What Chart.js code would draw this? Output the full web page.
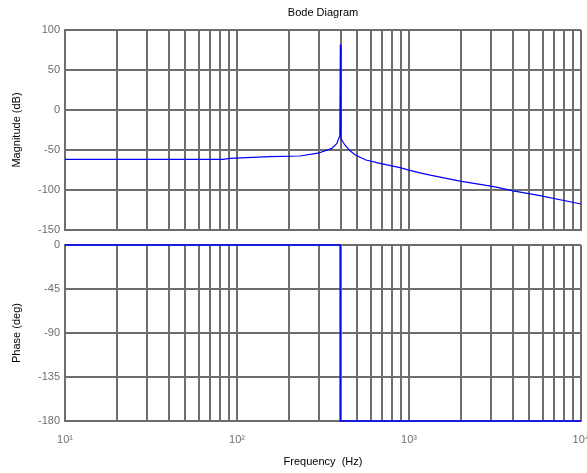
<!DOCTYPE html>
<html>
<head>
<meta charset="utf-8">
<script src="https://cdn.jsdelivr.net/npm/chart.js@4/dist/chart.umd.min.js"></script>
<style>
  html, body { margin: 0; padding: 0; background: #fff; }
  #wrap { position: relative; width: 587px; height: 473px; }
  #mag { position: absolute; left: 0; top: 0; }
  #phase { position: absolute; left: 0; top: 238px; }
</style>
</head>
<body>
<div id="wrap">
  <canvas id="mag" width="587" height="238"></canvas>
  <canvas id="phase" width="587" height="235"></canvas>
</div>
<script>
// magnitude response
const magFreq = [10, 83, 91, 155, 232, 296, 356, 381, 396, 399, 402, 424, 454, 486, 519, 562, 678, 887, 987, 1158, 1328, 1981, 2589, 3170, 4028, 5776, 10000];
const magDb   = [-61.6, -61.6, -60.4, -58.3, -57.5, -54, -48, -41.7, -32, 82, -36, -43.7, -51, -56, -59, -62.5, -66.7, -72, -74.8, -78.5, -81.5, -89, -93, -96, -101, -107, -117.5];

// phase response
const phaseFreq = [10, 398, 398, 10000];
const phaseDeg  = [0, 0, -180, -180];

// axis ticks
const xTickValues = [10, 100, 1000, 10000];
const xTickLabels = ['10\u00B9', '10\u00B2', '10\u00B3', '10\u2074'];
const magTicks = [-150, -100, -50, 0, 50, 100];
const phaseTicks = [-180, -135, -90, -45, 0];

// log grid: 1..9 in every decade
const gridFreqs = [];
for (let d = 10; d < 10000; d *= 10) {
  for (let m = 1; m < 10; m++) gridFreqs.push(d * m);
}
gridFreqs.push(10000);

const FONT = '"Liberation Sans", Arial, sans-serif';
const gridColor = '#6e6e6e';
const tickColor = '#6d6d6d';
const lineBlue = '#0000ff';

function xAxis(showLabels) {
  return {
    type: 'logarithmic',
    min: 10,
    max: 10000,
    afterBuildTicks: s => { s.ticks = gridFreqs.map(v => ({ value: v })); },
    afterFit: s => {
      s.height = showLabels ? 52 : 0;
      s.paddingLeft = 0;
      s.paddingRight = 0;
      s.paddingTop = 0;
      s.paddingBottom = 0;
    },
    grid: { color: gridColor, lineWidth: 2, drawTicks: false },
    border: { color: gridColor, width: 2 },
    ticks: {
      display: showLabels,
      autoSkip: false,
      maxRotation: 0,
      padding: 12,
      color: tickColor,
      font: { family: FONT, size: 11 },
      callback: v => {
        const i = xTickValues.indexOf(v);
        return i >= 0 ? xTickLabels[i] : '';
      }
    },
    title: {
      display: showLabels,
      text: 'Frequency  (Hz)',
      color: '#000',
      font: { family: FONT, size: 11 },
      padding: { top: 0, bottom: 4 }
    }
  };
}

function yAxis(min, max, tickList, label) {
  return {
    min: min,
    max: max,
    afterBuildTicks: s => { s.ticks = tickList.map(v => ({ value: v })); },
    afterFit: s => {
      s.width = 65;
      s.paddingTop = 0;
      s.paddingBottom = 0;
      s.paddingLeft = 0;
      s.paddingRight = 0;
    },
    grid: { color: gridColor, lineWidth: 2, drawTicks: false },
    border: { color: gridColor, width: 2 },
    ticks: { padding: 5, color: tickColor, font: { family: FONT, size: 11 } },
    title: {
      display: true,
      text: label,
      color: '#000',
      font: { family: FONT, size: 11 },
      padding: { top: 10, bottom: 0 }
    }
  };
}

const common = {
  responsive: false,
  animation: false,
  events: [],
  elements: { point: { radius: 0 }, line: { tension: 0 } }
};

new Chart(document.getElementById('mag'), {
  type: 'line',
  data: {
    datasets: [{
      data: magFreq.map((f, i) => ({ x: f, y: magDb[i] })),
      borderColor: lineBlue,
      borderWidth: 1.2,
      fill: false,
      clip: 4
    }]
  },
  options: {
    ...common,
    layout: { padding: { top: 0, right: 6, bottom: 8, left: 0 } },
    plugins: {
      legend: { display: false },
      tooltip: { enabled: false },
      title: {
        display: true,
        text: 'Bode Diagram',
        fullSize: false,
        color: '#000',
        font: { family: FONT, size: 11, weight: 'normal' },
        padding: { top: 6, bottom: 10.8 }
      }
    },
    scales: {
      x: xAxis(false),
      y: yAxis(-150, 100, magTicks, 'Magnitude (dB)')
    }
  }
});

new Chart(document.getElementById('phase'), {
  type: 'line',
  data: {
    datasets: [{
      data: phaseFreq.map((f, i) => ({ x: f, y: phaseDeg[i] })),
      borderColor: lineBlue,
      borderWidth: 1.5,
      fill: false,
      clip: 4
    }]
  },
  options: {
    ...common,
    layout: { padding: { top: 7, right: 6, bottom: 0, left: 0 } },
    plugins: {
      legend: { display: false },
      tooltip: { enabled: false }
    },
    scales: {
      x: xAxis(true),
      y: yAxis(-180, 0, phaseTicks, 'Phase (deg)')
    }
  }
});
</script>
</body>
</html>
